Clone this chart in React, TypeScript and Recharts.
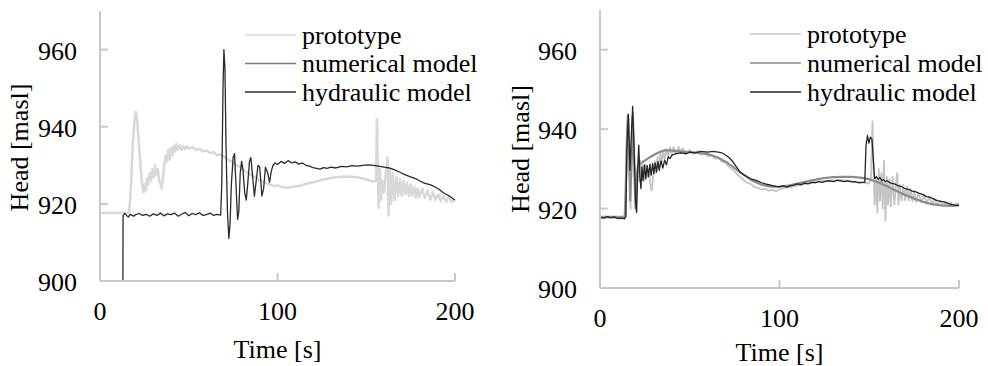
import React from 'react';
import { LineChart, Line, XAxis, YAxis, Legend } from 'recharts';

const FONT = "'Times New Roman', 'Liberation Serif', Times, serif";
const AXIS_COLOR = '#c8c8c8';
const TXT = { fontFamily: FONT, fontSize: 26 };

const xTicks = [0, 100, 200];
const yTicks = [900, 920, 940, 960];
const xTitle = 'Time [s]';
const yTitle = 'Head [masl]';
const seriesNames = ['prototype', 'numerical model', 'hydraulic model'];

// ---------- left panel ----------
const leftPrototype: [number, number][] = [
  [0, 917.6], [5, 917.6], [10, 917.6], [15, 917.6], [16.5, 918], [17.5, 925], [18.5, 936], [19.5, 942],
  [20, 943.8], [20.8, 942.5], [21.5, 938], [22.5, 932], [23.5, 926], [24.4, 923], [25, 925], [25.8, 923.5],
  [26.5, 926.5], [27.2, 925], [28, 928], [28.8, 926], [29.5, 929], [30.3, 927], [31, 930], [31.8, 927.5],
  [32.6, 929], [33.4, 926], [34.2, 925], [34.8, 924], [35.5, 927], [36.2, 930], [37, 932.5], [37.8, 931],
  [38.5, 934], [39.3, 931.5], [40, 934.5], [40.8, 932.5], [41.5, 935], [42.3, 933.5], [43, 935.5], [44, 934],
  [45, 935.2], [46, 934], [47, 935], [48, 934.2], [49, 935], [50, 934.3], [52, 934.8], [54, 934], [56, 934.3],
  [58, 933.6], [60, 933.8], [62, 933.2], [64, 933.4], [66, 932.6], [68, 932.8], [70, 932.2], [72, 931.5],
  [74, 931], [76, 930.2], [78, 929.8], [80, 929], [82, 928.4], [84, 927.8], [86, 927.2], [88, 926.8], [90, 926],
  [92, 925.8], [94, 925.2], [96, 925], [98, 924.6], [100, 924.8], [103, 924.3], [106, 924.2], [109, 924.5],
  [112, 924.6], [115, 925], [118, 925.4], [121, 925.7], [124, 926.1], [127, 926.4], [130, 926.7], [133, 926.9],
  [136, 927], [139, 927.1], [142, 927], [145, 926.9], [148, 926.6], [151, 926.2], [154, 925.8], [155.5, 926],
  [156, 942], [156.5, 930], [157, 919], [157.7, 929], [158.4, 921], [159, 926], [160, 923], [161, 928],
  [162, 932], [162.6, 917], [163.3, 929], [164, 920], [165, 928], [166, 921], [167, 927], [168, 922],
  [169, 926.5], [170, 922], [171, 926], [172, 922.5], [173, 925.5], [174, 922], [175, 925], [176, 922],
  [177, 924.5], [178, 921.5], [179, 924], [180, 921.8], [181.5, 924], [183, 921.5], [184.5, 923.5], [186, 921],
  [187.5, 923], [189, 921], [190.5, 922.5], [192, 920.7], [193.5, 922], [195, 920.5], [196.5, 921.8],
  [198, 920.6], [200, 921],
];

const leftNumerical: [number, number | null][] = [[0, null]];

const leftHydraulic: [number, number][] = [
  [12.9, 900], [13, 917], [14, 917.5], [15, 917], [16, 916.6], [17, 917.3], [18, 917], [19, 916.8], [20, 917.2],
  [22, 917.5], [24, 917], [26, 917.3], [28, 916.8], [30, 917.4], [32, 917], [34, 917.6], [36, 916.9], [38, 917.4],
  [40, 917.2], [42, 917.6], [44, 916.8], [46, 917.3], [48, 917.8], [50, 916.9], [52, 917.5], [54, 917.2],
  [56, 917.7], [58, 917], [60, 917.2], [62, 917.6], [64, 917], [66, 917.3], [68, 917.1], [68.6, 925],
  [69.3, 950], [69.8, 960], [70.4, 955], [71, 935], [71.8, 918], [72.6, 911], [73.3, 915], [74, 925], [75, 932],
  [75.8, 933], [76.6, 925], [77.5, 916], [78.2, 918], [79, 928], [79.8, 931], [80.5, 929], [81.5, 923],
  [82.4, 921], [83.2, 925], [84.2, 931], [85, 932], [86, 927], [87, 922], [88, 926], [89, 930], [90, 929.5],
  [91.2, 922], [92.2, 924], [93.2, 929.5], [94.5, 928], [95.5, 925.6], [96.5, 928.5], [97.5, 930], [98.6, 930.6],
  [100, 930.2], [102, 931], [104, 930.5], [106, 931.2], [108, 930.6], [110, 930.9], [112, 930.3], [114, 930.6],
  [116, 930], [118, 929.8], [120, 929.4], [122, 929.2], [124, 929], [126, 929.4], [128, 929.2], [130, 929.5],
  [133, 929.3], [136, 929.7], [139, 929.6], [142, 929.9], [145, 929.8], [148, 930], [151, 930.1], [154, 930],
  [157, 929.8], [160, 929.5], [163, 929.3], [166, 928.8], [169, 928.2], [172, 927.5], [175, 927], [178, 926.5],
  [180, 926], [183, 925.3], [186, 925], [189, 924.3], [191, 923.8], [193, 923], [195, 922.5], [197, 922],
  [199, 921.3], [200, 921],
];

// ---------- right panel ----------
const rightPrototype: [number, number][] = [
  [0, 918], [5, 918], [10, 918], [13.5, 918], [14.5, 925], [15.2, 940], [15.8, 943], [16.4, 930], [17, 920],
  [17.6, 935], [18.4, 944], [19, 935], [19.6, 925], [20.3, 921], [21, 930], [21.8, 927], [22.5, 932], [23.2, 928],
  [24, 931], [24.8, 927], [25.6, 931], [26.4, 928], [27.2, 930], [28, 926], [28.8, 924.5], [29.6, 928],
  [30.4, 932], [31.2, 929], [32, 933], [32.8, 930.5], [33.6, 934], [34.4, 931.5], [35.2, 934.5], [36, 932.5],
  [37, 935], [38, 933], [39, 935.5], [40, 933.5], [41, 935.5], [42, 933.8], [44, 935.5], [45, 934], [46, 935.2],
  [48, 933.8], [50, 934.8], [52, 933.8], [54, 934.5], [56, 933.6], [58, 934], [60, 933.2], [62, 933.5],
  [64, 932.6], [66, 932.8], [68, 931.8], [70, 931.5], [72, 930.5], [74, 929.8], [76, 928.8], [78, 928],
  [80, 927.2], [82, 926.5], [84, 926.2], [86, 925.4], [88, 925.2], [90, 924.8], [92, 925], [94, 924.5],
  [96, 924.7], [98, 924.4], [100, 924.8], [103, 925.2], [106, 925.4], [109, 925.7], [112, 926], [115, 926.3],
  [118, 926.6], [121, 926.8], [124, 927], [127, 927], [130, 927.1], [133, 927.2], [136, 927.1], [139, 927],
  [142, 926.8], [145, 926.6], [148, 926.5], [150, 926.3], [151, 928], [151.8, 942], [152.4, 930], [153, 921],
  [153.8, 928], [154.5, 919], [155.3, 930], [156, 922], [156.8, 929], [157.5, 920], [158.2, 932], [159, 917],
  [159.8, 928], [160.5, 921], [161.3, 927.5], [162, 920.5], [163, 928], [164, 921], [165, 927], [165.6, 929],
  [166.3, 921], [167, 926], [168, 922], [169, 926], [170, 922], [171, 925.5], [172, 922], [173, 925],
  [174, 921.8], [175, 924.5], [176, 921.6], [177.5, 924], [179, 921.5], [180.5, 923.5], [182, 921.2],
  [183.5, 923], [185, 921], [186.5, 922.5], [188, 920.8], [189.5, 922], [191, 920.8], [192.5, 921.8],
  [194, 920.6], [195.5, 921.5], [197, 920.8], [198.5, 921.3], [200, 921],
];

const rightNumerical: [number, number][] = [
  [0, 917.8], [10, 917.8], [14, 917.8], [14.8, 935], [15.5, 943.5], [16.2, 935], [16.8, 922], [17.5, 930],
  [18.2, 943], [19, 932], [19.8, 920], [20.5, 928], [21.2, 931], [22, 931.2], [24, 931.8], [26, 932.4],
  [28, 933], [30, 933.5], [32, 934], [34, 934.4], [36, 934.7], [40, 934.6], [45, 934.4], [50, 934.2],
  [55, 934], [60, 933.7], [65, 933], [70, 931.8], [75, 930.2], [80, 928.5], [85, 927], [90, 926], [95, 925.5],
  [100, 925.5], [105, 925.8], [110, 926.3], [115, 926.8], [120, 927.3], [125, 927.7], [130, 927.9], [135, 928],
  [140, 928], [145, 927.8], [150, 927.4], [155, 926.6], [160, 925.6], [165, 924.5], [170, 923.4], [175, 922.5],
  [180, 921.7], [185, 921.1], [190, 920.8], [195, 920.7], [200, 920.8],
];

const rightHydraulic: [number, number][] = [
  [0, 917.8], [2, 917.6], [4, 918], [6, 917.7], [8, 917.9], [10, 917.5], [12, 917.6], [13.6, 917.4],
  [14.4, 918], [15, 935], [15.8, 943.8], [16.7, 929.6], [17.4, 938], [18.2, 945.7], [19, 935], [19.8, 922],
  [20.4, 919], [21, 930], [21.6, 936], [22.2, 928], [22.8, 925], [23.4, 930.5], [24, 927], [24.8, 931],
  [25.5, 927.5], [26.3, 930.8], [27, 928], [27.8, 931.2], [28.5, 928.4], [29.3, 931.3], [30, 928.8],
  [30.8, 931.5], [31.5, 929.2], [32.3, 931.8], [33, 929.6], [34, 932], [35, 930.2], [36, 932.2], [37, 931],
  [38, 933], [39, 932.6], [40, 933.4], [42, 933.8], [45, 934], [48, 933.8], [50, 934.2], [53, 934], [56, 934.4],
  [60, 934.2], [63, 934.4], [66, 934.2], [68, 934], [70, 933.5], [72, 932.8], [74, 931.8], [76, 930.5],
  [78, 929.2], [80, 928.6], [82, 928], [84, 927.5], [86, 927.2], [88, 926.9], [90, 926.5], [92, 926.2],
  [94, 926], [96, 925.8], [98, 925.6], [100, 925.5], [102, 925.8], [104, 925.4], [106, 925.7], [108, 925.9],
  [110, 926.2], [112, 926], [114, 926.4], [116, 926.2], [118, 926.6], [120, 926.5], [122, 926.8], [124, 926.6],
  [126, 926.9], [128, 927], [130, 926.8], [132, 927.1], [134, 927], [136, 926.8], [138, 927], [140, 926.7],
  [142, 926.8], [144, 926.5], [146, 926.6], [147.5, 926.6], [148.2, 936], [149, 938.4], [149.8, 936.5],
  [150.6, 938], [151.5, 937.5], [152.3, 932], [153, 927.6], [154, 928], [155, 927.4], [156, 927.8], [157, 927],
  [158, 927.3], [159, 926.8], [160, 927], [162, 926.4], [164, 926.2], [166, 925.8], [168, 925.5], [170, 925],
  [172, 924.8], [174, 924.4], [176, 924.2], [178, 923.8], [180, 923.5], [182, 923], [184, 922.8], [186, 922.4],
  [188, 922], [190, 921.8], [192, 921.6], [194, 921.3], [196, 921], [198, 920.8], [200, 920.8],
];

const toData = (pts: [number, number | null][]) => pts.map(([t, v]) => ({ t, v }));

const XTick = (props: any) => {
  const { x, y, payload } = props;
  return (
    <g>
      {payload.value !== 0 && <line x1={x} x2={x} y1={y} y2={y - 8} stroke={AXIS_COLOR} strokeWidth={2} />}
      <text x={x} y={y + 39} textAnchor="middle" style={TXT} fill="#000">
        {payload.value}
      </text>
    </g>
  );
};

const YTick = (props: any) => {
  const { x, y, payload } = props;
  return (
    <g>
      <line x1={x} x2={x + 8} y1={y} y2={y} stroke={AXIS_COLOR} strokeWidth={2} />
      <text x={x - 23} y={y + 10} textAnchor="end" style={TXT} fill="#000">
        {payload.value}
      </text>
    </g>
  );
};

const makeLegend = (rowY: number[]) => (props: any) => {
  const payload = [...(props.payload || [])].sort(
    (a: any, b: any) => seriesNames.indexOf(a.value) - seriesNames.indexOf(b.value)
  );
  return (
    <svg width={250} height={110} style={{ display: 'block', overflow: 'visible' }}>
      {payload.map((e: any, i: number) => (
        <g key={e.value}>
          <line x1={0} x2={51} y1={rowY[i]} y2={rowY[i]} stroke={e.color} strokeWidth={1.5} />
          <text x={57} y={rowY[i] + 8.5} style={TXT} fill="#000">
            {e.value}
          </text>
        </g>
      ))}
    </svg>
  );
};

interface PanelProps {
  margin: { top: number; right: number; bottom: number; left: number };
  yWidth: number;
  legendLeft: number;
  rowY: number[];
  colors: string[];
  widths: number[];
  series: [number, number | null][][];
}

const Panel = ({ margin, yWidth, legendLeft, rowY, colors, widths, series }: PanelProps) => (
  <LineChart width={494} height={366} margin={margin}>
    <XAxis
      dataKey="t"
      type="number"
      domain={[0, 200]}
      ticks={xTicks}
      allowDataOverflow
      tickSize={0}
      tickMargin={0}
      tickLine={false}
      height={30}
      axisLine={{ stroke: AXIS_COLOR, strokeWidth: 2 }}
      tick={<XTick />}
      interval={0}
    />
    <YAxis
      type="number"
      domain={[900, 970]}
      ticks={yTicks}
      allowDataOverflow
      tickSize={0}
      tickMargin={0}
      tickLine={false}
      width={yWidth}
      axisLine={{ stroke: AXIS_COLOR, strokeWidth: 2 }}
      tick={<YTick />}
      interval={0}
    />
    <Legend
      layout="vertical"
      align="center"
      verticalAlign="middle"
      wrapperStyle={{ left: legendLeft, top: 0, width: 250, height: 110 }}
      content={makeLegend(rowY)}
    />
    {series.map((pts, i) => (
      <Line
        key={seriesNames[i]}
        data={toData(pts)}
        dataKey="v"
        name={seriesNames[i]}
        stroke={colors[i]}
        strokeWidth={widths[i]}
        strokeLinejoin="round"
        dot={false}
        activeDot={false}
        isAnimationActive={false}
        connectNulls={false}
      />
    ))}
  </LineChart>
);

export default function App() {
  return (
    <div style={{ position: 'absolute', left: 0, top: 0, width: 988, height: 366, background: '#fff' }}>
      <div style={{ position: 'absolute', left: 0, top: 0 }}>
        <Panel
          margin={{ top: 11, right: 39, bottom: 55, left: 0 }}
          yWidth={100}
          legendLeft={245}
          rowY={[35, 63.5, 92]}
          colors={['#d8d8d8', '#7a7a7a', '#2a2a2a']}
          widths={[2.5, 1.5, 1.3]}
          series={[leftPrototype, leftNumerical, leftHydraulic]}
        />
      </div>
      <div style={{ position: 'absolute', left: 494, top: 0 }}>
        <Panel
          margin={{ top: 10, right: 29, bottom: 48, left: 0 }}
          yWidth={106}
          legendLeft={256}
          rowY={[34, 63, 92]}
          colors={['#c4c4c4', '#8c8c8c', '#262626']}
          widths={[1.8, 2.2, 1.3]}
          series={[rightPrototype, rightNumerical, rightHydraulic]}
        />
      </div>
      <svg
        width={988}
        height={366}
        style={{ position: 'absolute', left: 0, top: 0, pointerEvents: 'none' }}
      >
        <text x={277.5} y={358} textAnchor="middle" style={TXT} fill="#000">
          {xTitle}
        </text>
        <text x={779.5} y={360.5} textAnchor="middle" style={TXT} fill="#000">
          {xTitle}
        </text>
        <text x={28} y={147.5} textAnchor="middle" style={TXT} fill="#000" transform="rotate(-90 28 147.5)">
          {yTitle}
        </text>
        <text x={529} y={149} textAnchor="middle" style={TXT} fill="#000" transform="rotate(-90 529 149)">
          {yTitle}
        </text>
      </svg>
    </div>
  );
}
